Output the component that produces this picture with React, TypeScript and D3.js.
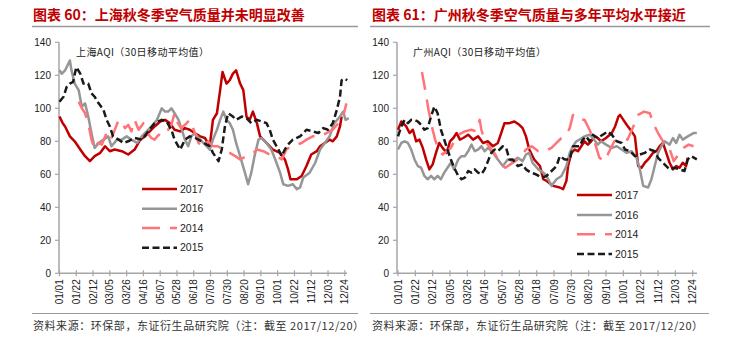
import React from "react";
import * as d3 from "d3";

const tickLabels = ["01/01","01/22","02/12","03/05","03/26","04/16","05/07","05/28","06/18","07/09","07/30","08/20","09/10","10/01","10/22","11/12","12/03","12/24"];
const yTicks = [0, 20, 40, 60, 80, 100, 120, 140];
const seriesNames = ["2017", "2016", "2014", "2015"];

// Shanghai AQI (30-day moving average), [day of year, value]
const sh2017: [number, number][] = [[0,95],[4,91],[7,89],[13,83],[19,80],[26,75],[32,71],[38,68],[44,71],[51,73],[57,77],[63,74],[69,75],[78,74],[86,72],[94,75],[101,81],[107,83],[113,86],[119,89],[126,92],[132,93],[138,91],[144,87],[151,86],[157,88],[163,87],[169,85],[176,83],[182,82],[188,77],[192,93],[197,97],[201,111],[204,122],[209,115],[213,117],[217,121],[221,123],[226,115],[230,111],[234,95],[238,93],[242,98],[247,91],[251,83],[259,79],[267,75],[276,73],[282,69],[286,63],[289,57],[297,57],[303,59],[309,65],[315,72],[322,74],[326,77],[332,79],[338,81],[342,80],[347,83],[351,89],[353,95]];
const sh2016: [number, number][] = [[0,123],[3,121],[7,123],[11,127],[13,129],[15,123],[19,115],[24,111],[28,101],[32,103],[36,95],[40,85],[44,76],[49,79],[55,81],[61,83],[65,77],[72,81],[78,81],[84,83],[90,81],[97,79],[103,83],[109,86],[115,89],[122,93],[128,100],[132,98],[136,98],[140,100],[144,97],[149,93],[153,87],[157,81],[161,77],[165,83],[169,85],[176,81],[184,77],[188,75],[192,81],[197,87],[201,93],[205,98],[209,93],[213,91],[217,87],[221,79],[226,71],[232,61],[236,54],[240,61],[244,71],[249,81],[253,82],[259,79],[265,75],[270,69],[276,61],[280,54],[286,53],[292,54],[297,51],[301,52],[305,58],[313,61],[320,67],[326,75],[332,79],[338,83],[344,91],[351,95],[355,98],[358,93],[362,94]];
const sh2014: [number, number][] = [[24,104],[28,100],[32,97],[36,91],[40,81],[44,75],[48,79],[53,78],[58,84],[62,80],[66,83],[70,88],[74,93],[78,91],[82,88],[86,90],[90,86],[94,93],[99,87],[105,91],[110,85],[115,82],[119,81],[124,84],[128,83],[132,85],[136,87],[140,90],[144,97],[148,91],[152,88],[157,90],[163,93],[168,87],[174,79],[180,76],[186,80],[192,77],[198,77],[205,75],[213,73],[220,71],[226,69],[234,71],[240,72],[247,75],[255,74],[263,72],[272,71],[278,69],[284,75],[290,77],[297,78],[303,79],[309,81],[317,83],[326,83],[334,85],[342,87],[349,91],[355,95],[359,103]];
const sh2015: [number, number][] = [[0,104],[5,107],[9,113],[13,115],[17,116],[21,125],[26,121],[30,115],[36,115],[40,109],[44,107],[49,103],[55,99],[59,93],[63,89],[67,83],[74,81],[80,79],[86,80],[94,82],[103,81],[111,86],[119,91],[128,93],[134,92],[140,87],[144,81],[151,75],[157,81],[163,83],[170,82],[178,80],[184,78],[188,77],[192,73],[199,68],[203,75],[207,89],[211,97],[217,95],[221,93],[228,95],[234,94],[240,91],[247,93],[253,92],[259,91],[263,87],[267,81],[274,75],[278,71],[282,75],[286,78],[292,81],[301,83],[309,87],[317,86],[324,85],[330,88],[336,87],[342,91],[347,99],[351,107],[353,117],[357,118],[360,117]];

// Guangzhou AQI (30-day moving average), [day of year, value]
const gz2017: [number, number][] = [[0,87],[4,92],[10,89],[14,85],[18,87],[22,80],[26,81],[30,76],[34,69],[38,63],[42,66],[46,73],[50,79],[54,76],[59,73],[63,80],[67,82],[71,85],[75,81],[79,82],[85,84],[91,81],[97,83],[103,79],[109,80],[115,77],[121,79],[125,85],[129,91],[135,91],[141,92],[147,90],[151,88],[155,83],[159,75],[165,69],[172,65],[176,57],[180,56],[188,53],[196,52],[200,51],[204,56],[206,65],[210,73],[214,75],[218,74],[222,77],[226,80],[230,78],[234,80],[238,83],[242,82],[246,80],[252,82],[259,85],[263,89],[267,95],[269,96],[273,93],[277,90],[283,86],[287,83],[291,65],[295,64],[299,67],[303,69],[309,73],[313,74],[317,77],[321,79],[325,73],[329,67],[333,63],[337,65],[341,64],[345,67],[349,65],[351,70]];
const gz2016: [number, number][] = [[0,75],[4,79],[8,80],[12,79],[16,75],[20,69],[24,65],[28,64],[32,59],[36,57],[40,59],[44,57],[48,59],[52,57],[56,61],[60,64],[64,67],[68,63],[73,69],[77,71],[81,71],[85,74],[89,78],[93,74],[97,75],[101,77],[105,74],[109,76],[115,73],[121,69],[127,65],[133,69],[139,68],[145,70],[151,68],[155,72],[159,73],[163,67],[170,63],[176,61],[180,59],[186,53],[192,57],[198,59],[204,65],[208,73],[212,77],[216,80],[220,81],[226,83],[232,84],[236,82],[242,78],[246,80],[252,78],[259,76],[265,77],[271,75],[277,73],[283,74],[289,70],[293,63],[297,53],[303,52],[307,57],[311,65],[315,73],[319,77],[323,80],[329,78],[333,82],[337,79],[341,84],[345,81],[351,83],[358,85],[362,85]];
const gz2014: [number, number][] = [[29,122],[33,111],[37,99],[41,89],[45,81],[49,75],[54,72],[59,74],[64,76],[68,80],[73,84],[81,86],[89,87],[95,86],[99,93],[101,87],[105,80],[112,76],[118,72],[124,66],[130,64],[136,66],[142,68],[148,70],[155,75],[162,77],[170,74],[178,74],[186,76],[192,79],[198,82],[204,84],[208,88],[212,96],[218,93],[226,93],[232,87],[238,80],[244,70],[250,68],[256,74],[262,80],[270,82],[278,81],[286,90],[291,96],[298,98],[305,97],[310,90],[315,85],[321,80],[328,77],[334,68],[340,72],[346,76],[352,78],[358,77]];
const gz2015: [number, number][] = [[0,83],[4,89],[8,93],[12,91],[16,93],[20,93],[24,92],[28,90],[32,87],[36,88],[40,95],[44,101],[48,97],[52,87],[56,81],[60,75],[64,69],[68,64],[73,59],[77,57],[81,58],[85,62],[89,61],[93,63],[97,61],[101,60],[105,63],[109,68],[113,73],[117,75],[121,74],[127,77],[131,76],[135,69],[139,69],[145,65],[151,66],[155,63],[161,61],[167,60],[174,58],[180,59],[184,61],[192,65],[196,71],[202,69],[208,69],[212,77],[220,77],[224,81],[228,83],[232,80],[236,84],[242,82],[248,84],[254,86],[259,84],[265,80],[271,79],[275,75],[281,74],[287,71],[293,72],[299,73],[305,75],[311,74],[315,70],[319,68],[325,65],[329,63],[335,64],[341,63],[347,62],[351,69],[355,71],[362,69]];

const styles: Record<string, { color: string; dash?: string }> = {
  "2017": { color: "#c00000" },
  "2016": { color: "#969696" },
  "2014": { color: "#ff7479", dash: "18,10" },
  "2015": { color: "#1a1a1a", dash: "7,3.5" },
};

const base = new Date(2017, 0, 1);
const parseMD = d3.timeParse("%Y/%m/%d");
const tickDays = tickLabels.map((t) => d3.timeDay.count(base, parseMD("2017/" + t) as Date));

const CJK = "'Noto Sans CJK SC', sans-serif";
const LAT = "'Liberation Sans', Arial, sans-serif";

type PanelProps = {
  axisX: number; axisEnd: number; x0: number; x357: number;
  titleX: number; lineX1: number; lineX2: number; footLineX2: number;
  title: string; label: string; labelX: number;
  legendX: number; legendY: number[];
  series: [number, number][][];
};

function Panel(p: PanelProps) {
  const y = d3.scaleLinear().domain([0, 140]).range([273.3, 42.3]);
  const x = d3.scaleLinear().domain([0, 357]).range([p.x0, p.x357]);
  const line = d3.line<[number, number]>().x((d) => x(d[0])).y((d) => y(d[1]));
  const axisColor = "#a6a6a6";
  return (
    <g>
      <text x={p.titleX} y={19.5} fill="#c00000" fontFamily={CJK} fontWeight={700} fontSize={14}>{p.title}</text>
      <line x1={p.lineX1} x2={p.lineX2} y1={26.5} y2={26.5} stroke="#999" strokeWidth={1.5} />
      <text x={p.labelX} y={56} fill="#222" fontFamily={CJK} fontSize={10} letterSpacing={0.4}>{p.label}</text>
      {yTicks.map((t) => (
        <g key={t}>
          <line x1={p.axisX - 4} x2={p.axisX} y1={y(t)} y2={y(t)} stroke={axisColor} strokeWidth={1.2} />
          <text x={p.axisX - 8} y={y(t)} dy="0.35em" textAnchor="end" fontFamily={LAT} fontSize={10} fill="#222">{t}</text>
        </g>
      ))}
      <line x1={p.axisX} x2={p.axisX} y1={y(140)} y2={y(0)} stroke={axisColor} strokeWidth={1.5} />
      <line x1={p.axisX} x2={p.axisEnd} y1={y(0)} y2={y(0)} stroke={axisColor} strokeWidth={1.5} />
      {tickDays.map((d, i) => (
        <g key={i}>
          <line x1={x(d)} x2={x(d)} y1={y(0) - 3} y2={y(0) + 3} stroke={axisColor} strokeWidth={1.2} />
          <text transform={`translate(${x(d)},${y(0) + 6}) rotate(-90)`} dy="0.35em" textAnchor="end" fontFamily={LAT} fontSize={10} fill="#222">{tickLabels[i]}</text>
        </g>
      ))}
      {p.series.map((s, i) => {
        const st = styles[seriesNames[i]];
        return (
          <path key={i} d={line(s) || ""} fill="none" stroke={st.color} strokeWidth={2.5} strokeDasharray={st.dash} strokeLinejoin="round" />
        );
      })}
      {seriesNames.map((n, i) => {
        const st = styles[n];
        return (
          <g key={n}>
            <line x1={p.legendX} x2={p.legendX + 35} y1={p.legendY[i]} y2={p.legendY[i]} stroke={st.color} strokeWidth={2.5} strokeDasharray={st.dash} />
            <text x={p.legendX + 38} y={p.legendY[i]} dy="0.35em" fontFamily={LAT} fontSize={10.5} fill="#222">{n}</text>
          </g>
        );
      })}
      <line x1={p.lineX1} x2={p.footLineX2} y1={313.5} y2={313.5} stroke="#999" strokeWidth={1.2} />
      <text x={p.titleX} y={330} fill="#333" fontFamily={CJK} fontSize={11} letterSpacing={0.55}>资料来源：环保部，东证衍生品研究院（注：截至 2017/12/20）</text>
    </g>
  );
}

export default function App() {
  return (
    <svg width={741} height={346} style={{ position: "absolute", left: 0, top: 0, background: "#fff" }}>
      <rect width={741} height={346} fill="#fff" />
      <Panel axisX={59} axisEnd={347} x0={59.5} x357={344.8} titleX={33} lineX1={32} lineX2={358} footLineX2={358}
        title="图表 60：上海秋冬季空气质量并未明显改善" label="上海AQI（30日移动平均值）" labelX={76}
        legendX={142} legendY={[189, 208.7, 228, 247.7]} series={[sh2017, sh2016, sh2014, sh2015]} />
      <Panel axisX={397} axisEnd={697} x0={398} x357={692.7} titleX={372} lineX1={370} lineX2={710} footLineX2={709}
        title="图表 61：广州秋冬季空气质量与多年平均水平接近" label="广州AQI（30日移动平均值）" labelX={413}
        legendX={577} legendY={[195, 215, 234.3, 254]} series={[gz2017, gz2016, gz2014, gz2015]} />
    </svg>
  );
}
